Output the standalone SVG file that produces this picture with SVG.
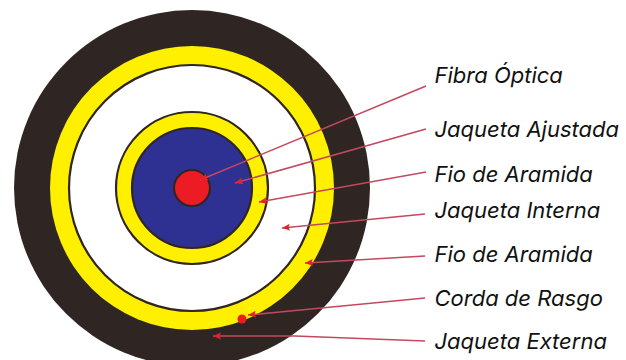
<svg xmlns="http://www.w3.org/2000/svg" width="626" height="360" viewBox="0 0 626 360">
<defs>
<marker id="a" markerWidth="9" markerHeight="8" refX="8" refY="4" orient="auto" markerUnits="userSpaceOnUse"><path d="M8 4L0 .5L1.5 4L0 7.5Z" fill="#e8202c"/></marker>
</defs>
<style>
text{font-family:Inter,"Liberation Sans",sans-serif;font-style:italic;font-size:22px;fill:#111}
.l{fill:none;stroke:#c4485e;stroke-width:1.5}
.k{stroke:#2f2623;stroke-width:2.2}
</style>
<rect width="626" height="360" fill="#fff"/>
<g id="jaqueta-externa"><circle cx="192" cy="188" r="178" fill="#2f2623"/></g>
<g id="fio-aramida-externo"><circle cx="192" cy="188" r="142" fill="#fff000"/></g>
<g id="jaqueta-interna"><circle cx="192" cy="188" r="123" fill="#fff" class="k"/></g>
<g id="fio-aramida-interno"><circle cx="192" cy="188" r="76" fill="#fff000" class="k"/></g>
<g id="jaqueta-ajustada"><circle cx="192" cy="188" r="60" fill="#2e3192" class="k"/></g>
<g id="fibra-optica"><circle cx="192" cy="188" r="18" fill="#ed1c24" class="k"/></g>
<g id="corda-de-rasgo"><circle cx="242" cy="319" r="4.5" fill="#ed1c24"/></g>
<g id="connectors">
<path class="l" marker-end="url(#a)" d="M426 86L200 180"/>
<path class="l" marker-end="url(#a)" d="M426 129L235 183"/>
<path class="l" marker-end="url(#a)" d="M426 172L259 202"/>
<path class="l" marker-end="url(#a)" d="M425 214L282 228"/>
<path class="l" marker-end="url(#a)" d="M425 256L305 263"/>
<path class="l" marker-end="url(#a)" d="M425 298L248 315"/>
<path class="l" marker-end="url(#a)" d="M425 341L295 336H213"/>
</g>
<g id="labels">
<text x="434.5" y="83">Fibra Óptica</text>
<text x="434.5" y="137">Jaqueta Ajustada</text>
<text x="434.5" y="182">Fio de Aramida</text>
<text x="434.5" y="218">Jaqueta Interna</text>
<text x="434.5" y="262">Fio de Aramida</text>
<text x="434.5" y="306">Corda de Rasgo</text>
<text x="434.5" y="349">Jaqueta Externa</text>
</g>
</svg>
